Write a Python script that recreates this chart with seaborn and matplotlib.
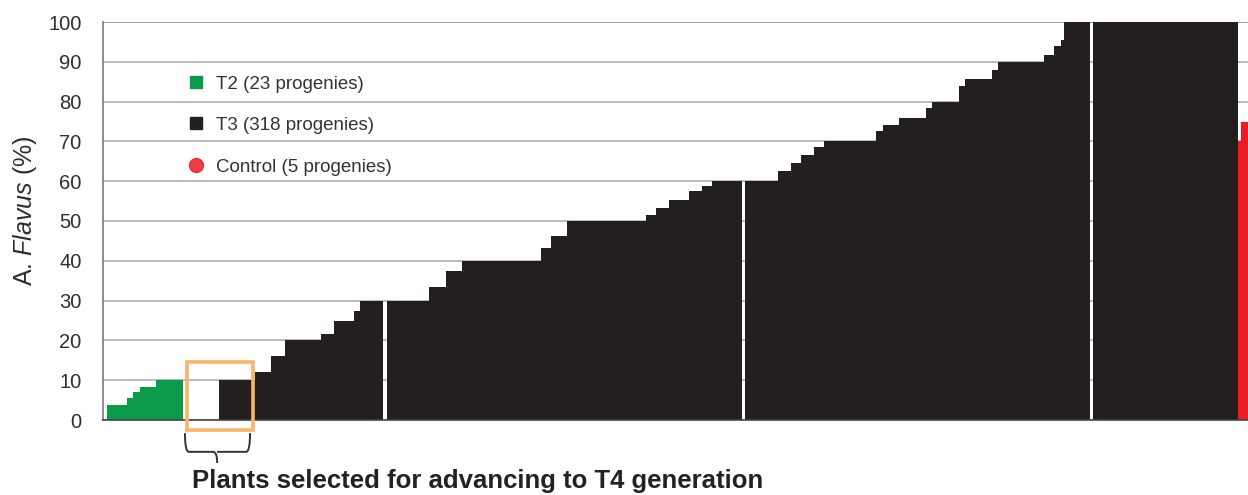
import numpy as np
import pandas as pd
import seaborn as sns
import matplotlib
matplotlib.use("Agg")
import matplotlib.pyplot as plt
from matplotlib.lines import Line2D
from matplotlib.patches import Rectangle, PathPatch
from matplotlib.path import Path
import matplotlib.transforms as mtransforms

# ---- data: A. flavus infection (%) per progeny, sorted within each group ----
t2_levels = [3.8, 5.5, 7.0, 8.3, 10.0]
t2_counts = [6, 2, 2, 5, 8]                      # 23 T2 progenies

t3_levels = [0, 10, 12, 16, 20, 21.5, 25, 27.5, 30, 33.5, 37.5, 40, 43.3, 46.2,
             50, 51.6, 53.3, 55.4, 57.5, 58.7, 60, 62.5, 64.6, 66.7, 68.7, 70,
             72.5, 74.2, 75.8, 78.4, 80, 83.8, 85.8, 88, 90, 91.7, 94, 95.5, 100]
t3_counts = [11, 11, 5, 4, 11, 4, 6, 2, 20, 5, 5, 24, 3, 5,
             24, 3, 4, 6, 4, 3, 19, 4, 3, 4, 3, 16,
             2, 5, 8, 2, 8, 2, 8, 2, 14, 3, 2, 1, 52]   # 318 T3 progenies
t3_breaks = [61, 169, 274]                      # blank slot before these T3 entries

control_values = [70, 75, 75, 75, 80]           # 5 control progenies

group_names = ["T2 (23 progenies)", "T3 (318 progenies)", "Control (5 progenies)"]
group_colors = ["#0b9a4a", "#231f20", "#ec1c24"]
y_ticks = [0, 10, 20, 30, 40, 50, 60, 70, 80, 90, 100]

# ---- assemble bar positions ----
t2_values = np.repeat(t2_levels, t2_counts)
t3_values = np.repeat(t3_levels, t3_counts)

pos, val, grp = [], [], []
slot = 0
for v in t2_values:
    pos.append(slot); val.append(v); grp.append(group_names[0]); slot += 1
for i, v in enumerate(t3_values):
    if i in t3_breaks:
        slot += 1
    pos.append(slot); val.append(v); grp.append(group_names[1]); slot += 1
for v in control_values:
    pos.append(slot); val.append(v); grp.append(group_names[2]); slot += 1

df = pd.DataFrame({"pos": pos, "value": val, "group": grp})

# ---- figure ----
sns.set_theme(style="white")
plt.rcParams["font.family"] = ["Liberation Sans", "DejaVu Sans"]
plt.rcParams["mathtext.fontset"] = "custom"
plt.rcParams["mathtext.rm"] = "Liberation Sans"
plt.rcParams["mathtext.it"] = "Liberation Sans:italic"

fig = plt.figure(figsize=(12.48, 4.95), dpi=100)
ax = fig.add_axes([103 / 1248, 75 / 495, 1145 / 1248, 398 / 495])

sns.barplot(data=df, x="pos", y="value", hue="group",
            palette=dict(zip(group_names, group_colors)),
            hue_order=group_names, native_scale=True, width=1.0,
            dodge=False, saturation=1, errorbar=None, linewidth=0,
            legend=False, ax=ax)

ax.set_xlim(-1.72, 346.5)
ax.set_ylim(0, 100)
ax.set_yticks(y_ticks)
ax.set_xticks([])
ax.set_xlabel("")
ax.set_ylabel("")
ax.set_axisbelow(True)
ax.yaxis.grid(True, color="#a8a8a8", linewidth=1.1)
ax.xaxis.grid(False)
ax.get_ygridlines()[-1].set_color("#8a8a8a")

for side in ["top", "right"]:
    ax.spines[side].set_visible(False)
ax.spines["left"].set_color("#7a7a7a")
ax.spines["left"].set_linewidth(1.2)
ax.spines["bottom"].set_color("#444444")
ax.spines["bottom"].set_linewidth(1.2)

ax.tick_params(axis="y", direction="inout", length=7, width=1.1,
               color="#7a7a7a", labelsize=14.5, labelcolor="#2e2e2e", pad=12)
ax.tick_params(axis="x", length=0)

# y-axis title
fig.text(25 / 1248, 1 - 211 / 495, r"A. $\mathit{Flavus}$ (%)", rotation=90,
         ha="center", va="center", fontsize=18, color="#2e2e2e")

# legend
handles = [
    Line2D([], [], marker="s", ls="", ms=9, color=group_colors[0]),
    Line2D([], [], marker="s", ls="", ms=9, color=group_colors[1]),
    Line2D([], [], marker="o", ls="", ms=10, color=group_colors[2], alpha=0.85),
]
ax.legend(handles, group_names, loc="upper left",
          bbox_to_anchor=((177 - 103) / 1145, (420 - 66) / 398),
          frameon=False, fontsize=13.5, labelcolor="#333333",
          handlelength=1.0, handletextpad=0.6, labelspacing=1.3, borderpad=0)

# highlight box around the selected plants
ax.add_patch(Rectangle((23.7, -2.5), 20.3, 17.0, fill=False,
                       edgecolor="#f9b46a", linewidth=2.6, clip_on=False,
                       zorder=5))

# curly brace under the box
xl, xm, xr = 23.2, 33.0, 43.0
y_top, y_mid, y_tip = -3.3, -8.0, -10.8
verts = [(xl, y_top), (xl, y_mid), (xl + 1.2, y_mid),
         (xm - 1.2, y_mid), (xm, y_mid), (xm, y_tip),
         (xm, y_mid), (xm + 1.2, y_mid),
         (xr - 1.2, y_mid), (xr, y_mid), (xr, y_top)]
codes = [Path.MOVETO, Path.CURVE3, Path.CURVE3,
         Path.LINETO, Path.CURVE3, Path.CURVE3,
         Path.MOVETO, Path.LINETO,
         Path.LINETO, Path.CURVE3, Path.CURVE3]
ax.add_patch(PathPatch(Path(verts, codes), fill=False, edgecolor="#333333",
                       linewidth=1.4, clip_on=False))

trans = mtransforms.blended_transform_factory(ax.transData, fig.transFigure)
ax.text(25.2, 7 / 495, "Plants selected for advancing to T4 generation",
        transform=trans, ha="left", va="baseline", fontsize=18.5,
        fontweight="bold", color="#222222")

fig.savefig("out.png", dpi=100)
